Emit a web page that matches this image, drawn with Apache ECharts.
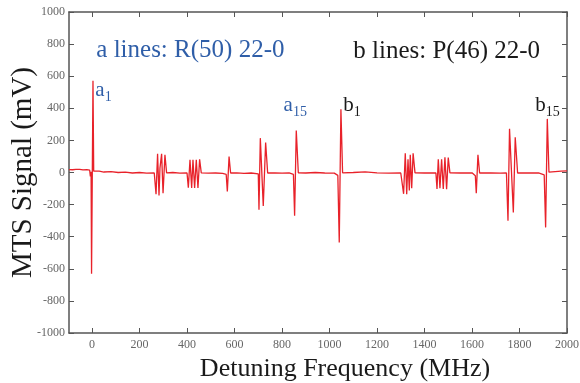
<!DOCTYPE html>
<html>
<head>
<meta charset="utf-8">
<script src="https://cdn.jsdelivr.net/npm/echarts@6/dist/echarts.min.js"></script>
<style>html,body{margin:0;padding:0;background:#fff;}#c{width:580px;height:383px;}</style>
</head>
<body>
<div id="c"></div>
<script>
// Detuning frequency (MHz) of each sampled point
const freq = [-97,-90,-82,-75,-68,-60,-52,-45,-38,-30,-22,-15,-10,-7,-4,-2,4,7,15,30,50,80,110,140,170,200,230,262,
  269.5,276,282,286,293,299,307,314,340,370,400,
  405.5,412.5,419.5,425,432,439,446,453,460,490,520,550,565,
  569.7,577,583.5,610,640,670,700,
  703,708.6,721,731,739.5,770,800,830,848,
  853,860,868.6,900,940,980,1020,1035,
  1041,1048,1055,1100,1150,1200,1250,1300,1305,
  1312,1319,1325,1330.5,1336,1340,1346,1352,1360,1400,1448,
  1452.6,1458,1465,1472,1479,1486,1493,1500,1507,1550,1600,1614,
  1618,1625,1632,1680,1720,1745,
  1751.5,1758,1774,1782,1792,1840,1880,1904,
  1910,1917,1924,1950,1975,2000];
// MTS signal (mV)
const signal = [18,24,17,22,19,26,20,23,16,22,18,21,15,-25,5,-631,572,8,5,8,3,5,0,2,-3,0,-4,-3,
  -135,116,-143,27,116,-129,110,-2,0,-4,-3,
  -94,79,-97,79,-97,79,-97,82,-2,-4,-3,-6,-12,
  -118,99,-3,-2,-5,-3,-8,
  -232,214,-208,187,-3,-2,-4,-3,-12,
  -270,261,-2,-3,0,-3,-4,-18,
  -436,394,-2,0,4,-2,-4,-3,-3,
  -133,120,-135,83,-112,110,-98,120,-2,-3,-3,
  -102,83,-98,83,-102,95,-104,93,-2,-3,-2,-20,
  -129,110,-3,-2,-4,-3,
  -301,272,-249,220,-3,-2,-3,-15,
  -342,334,2,6,8,10];
const xTicks = [0,200,400,600,800,1000,1200,1400,1600,1800,2000];
const yTicks = [-1000,-800,-600,-400,-200,0,200,400,600,800,1000];
const xRange = [-97, 2000];
const yRange = [-1000, 1000];

// Annotations: text, subscript, anchor (baseline-left) in data coordinates
const annoText = ['a','a','b','b'];
const annoSub = ['1','15','1','15'];
const annoX = [14, 806, 1058, 1866];
const annoY = [471, 377, 377, 377];
const annoColor = ['#2f5ea8','#2f5ea8','#1a1a1a','#1a1a1a'];
const headText = ['a lines: R(50) 22-0','b lines: P(46) 22-0'];
const headX = [18, 1100];
const headY = [760, 754];
const headColor = ['#2f5ea8','#1a1a1a'];

const chart = echarts.init(document.getElementById('c'), null, {renderer:'canvas'});
const FONT = '"Liberation Serif","Times New Roman",serif';
const axisCol = '#555';
const lblCol = '#666';

const baseX = {
  type:'value', min:xRange[0], max:xRange[1],
  axisLine:{show:true,onZero:false,lineStyle:{color:axisCol,width:1.5}},
  axisTick:{show:true,inside:true,length:5,customValues:xTicks,lineStyle:{color:axisCol,width:1}},
  splitLine:{show:false}
};
const baseY = {
  type:'value', min:yRange[0], max:yRange[1], interval:200,
  axisLine:{show:true,onZero:false,lineStyle:{color:axisCol,width:1.5}},
  axisTick:{show:true,inside:true,length:5,lineStyle:{color:axisCol,width:1}},
  splitLine:{show:false}
};
const plain = v => String(v);

chart.setOption({
  animation:false,
  backgroundColor:'#fff',
  grid:{left:69,right:13,top:12,bottom:50,containLabel:false,outerBoundsMode:'none'},
  xAxis:[
    Object.assign({}, baseX, {
      position:'bottom',
      axisLabel:{show:true,customValues:xTicks,formatter:plain,color:lblCol,fontFamily:FONT,fontSize:12,margin:6},
      name:'Detuning Frequency (MHz)', nameLocation:'middle', nameGap:20,
      nameTextStyle:{color:'#1a1a1a',fontFamily:FONT,fontSize:26,padding:[0,0,0,54]}
    }),
    Object.assign({}, baseX, {position:'top', axisLabel:{show:false}})
  ],
  yAxis:[
    Object.assign({}, baseY, {
      position:'left',
      axisLabel:{show:true,formatter:plain,color:lblCol,fontFamily:FONT,fontSize:12,margin:4},
      name:'MTS Signal (mV)', nameLocation:'middle', nameGap:31, nameMoveOverlap:false,
      nameTextStyle:{color:'#1a1a1a',fontFamily:FONT,fontSize:29}
    }),
    Object.assign({}, baseY, {position:'right', axisLabel:{show:false}})
  ],
  series:[{
    type:'line',
    data: freq.map((f,i)=>[f, signal[i]]),
    showSymbol:false,
    symbol:'none',
    lineStyle:{color:'#e8222a',width:1.3},
    clip:true
  }]
});

const elements = [];
for (let i=0;i<headText.length;i++){
  const p = chart.convertToPixel({xAxisIndex:0,yAxisIndex:0},[headX[i],headY[i]]);
  elements.push({type:'text',x:p[0],y:p[1],style:{text:headText[i],fill:headColor[i],font:'25px '+FONT,textAlign:'left',textVerticalAlign:'middle'}});
}
for (let i=0;i<annoText.length;i++){
  const p = chart.convertToPixel({xAxisIndex:0,yAxisIndex:0},[annoX[i],annoY[i]]);
  elements.push({type:'text',x:p[0],y:p[1]+4,style:{text:annoText[i],fill:annoColor[i],font:'21px '+FONT,textAlign:'left',textVerticalAlign:'bottom'}});
  const w = annoText[i]==='a' ? 9.5 : 10.5;
  elements.push({type:'text',x:p[0]+w,y:p[1]+7.5,style:{text:annoSub[i],fill:annoColor[i],font:'14px '+FONT,textAlign:'left',textVerticalAlign:'bottom'}});
}
chart.setOption({graphic:{elements:elements}});
</script>
</body>
</html>
